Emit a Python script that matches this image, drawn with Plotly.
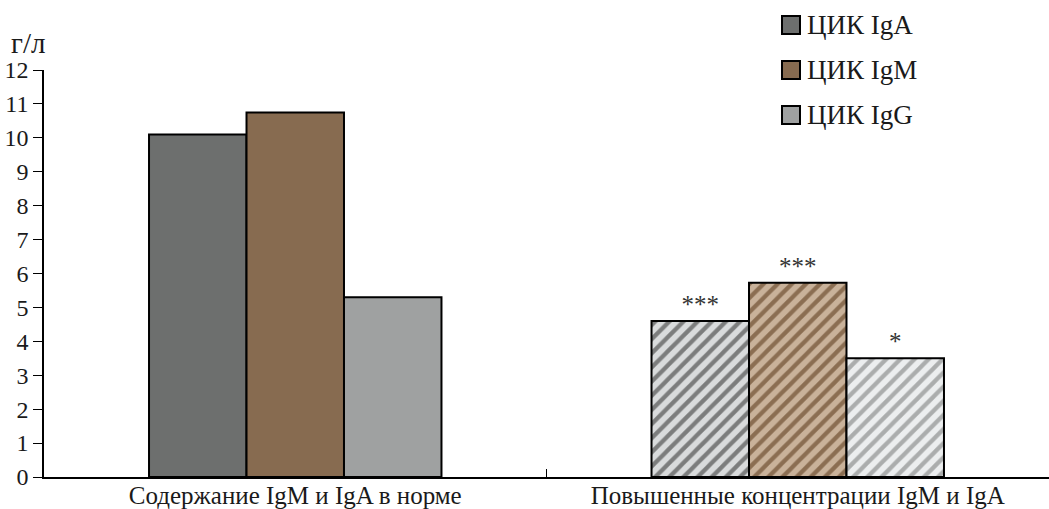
import plotly.graph_objects as go

categories = ["Содержание IgM и IgA в норме", "Повышенные концентрации IgM и IgA"]
series_names = ["ЦИК IgA", "ЦИК IgM", "ЦИК IgG"]
iga = [10.1, 4.6]
igm = [10.75, 5.73]
igg = [5.3, 3.5]
signif_iga = ["", "***"]
signif_igm = ["", "***"]
signif_igg = ["", "*"]
y_ticks = list(range(0, 13))
y_unit = "г/л"

solid = ["#6d6f6e", "#876b50", "#9fa1a1"]
hatch_bg = ["#d9dbdc", "#c9b29a", "#eceeef"]
hatch_fg = ["#7c7d7d", "#8b6e52", "#abadad"]

W, H = 1049, 509
L, R, T, B = 44, 0, 70, 32
PW, PH = W - L - R, H - T - B
FONT = "Liberation Serif"

fig = go.Figure()
for i, (name, vals, sig) in enumerate(zip(series_names, [iga, igm, igg],
                                          [signif_iga, signif_igm, signif_igg])):
    fig.add_trace(go.Bar(
        x=categories, y=vals, name=name,
        text=sig, textposition="outside",
        textfont=dict(family=FONT, size=25, color="#333333"),
        cliponaxis=False,
        hoverinfo="skip",
        marker=dict(
            color=solid[i],
            line=dict(color="#000000", width=2),
            pattern=dict(shape=["", "/"], fgcolor=hatch_fg[i], bgcolor=hatch_bg[i],
                         size=10, solidity=0.42, fillmode="replace", fgopacity=1),
        ),
        showlegend=False,
    ))

# manual legend
def px_to_paper(px, py):
    return (px - L) / PW, (H - B - py) / PH

for i, name in enumerate(series_names):
    cy = 25 + i * 45
    x0, y0 = px_to_paper(782, cy + 9)
    x1, y1 = px_to_paper(800, cy - 9)
    fig.add_shape(type="rect", xref="paper", yref="paper", x0=x0, y0=y0, x1=x1, y1=y1,
                  fillcolor=solid[i], line=dict(color="#000000", width=2))
    tx, ty = px_to_paper(805, cy)
    fig.add_annotation(xref="paper", yref="paper", x=tx, y=ty, text=name, showarrow=False,
                       xanchor="left", yanchor="middle",
                       font=dict(family=FONT, size=27, color="#1a1a1a"))

ux, uy = px_to_paper(28, 43)
fig.add_annotation(xref="paper", yref="paper", x=ux, y=uy, text=y_unit, showarrow=False,
                   xanchor="center", yanchor="middle",
                   font=dict(family=FONT, size=29, color="#1a1a1a"))

fig.update_layout(
    width=W, height=H,
    margin=dict(l=L, r=R, t=T, b=B, autoexpand=False),
    paper_bgcolor="white", plot_bgcolor="white",
    barmode="group", bargap=0.418, bargroupgap=0,
    showlegend=False,
    font=dict(family=FONT, color="#1a1a1a"),
    xaxis=dict(
        automargin=False,
        showline=True, linecolor="#000000", linewidth=1.5,
        ticks="inside", tickson="boundaries", ticklen=8, tickcolor="#000000",
        tickfont=dict(family=FONT, size=25, color="#1a1a1a"),
        ticklabelstandoff=-5,
        showgrid=False, zeroline=False,
    ),
    yaxis=dict(
        automargin=False,
        range=[0, 12], tickvals=y_ticks,
        showline=True, linecolor="#000000", linewidth=1.5,
        ticks="outside", ticklen=9, tickcolor="#000000",
        tickfont=dict(family=FONT, size=24, color="#1a1a1a"),
        showgrid=False, zeroline=False,
    ),
)

fig.write_html("out.html", config={"displayModeBar": False},
               post_script="document.body.style.margin='0';document.body.style.overflow='hidden';")
